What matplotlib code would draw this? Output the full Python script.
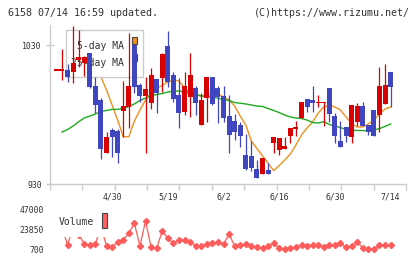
import matplotlib
matplotlib.use('Agg')
import matplotlib.pyplot as plt
from matplotlib.patches import Rectangle
import numpy as np

# ---------------- data ----------------
tick_idx = [10, 20, 30, 40, 50, 60]
tick_labels = ['4/30', '5/19', '6/2', '6/16', '6/30', '7/14']

opens = [1012.0, 1012.0, 1012.0, 1010.4, 1019.2, 1016.8, 1024.5, 1000.5, 990.4, 952.1,
         968.9, 968.4, 982.7, 985.2, 1030.0, 1001.2, 993.5, 988.1, 1005.3, 1006.0,
         1029.3, 1008.4, 994.0, 982.0, 992.8, 998.9, 972.4, 991.7, 1007.2, 998.9,
         993.3, 978.9, 975.3, 972.2, 950.9, 950.1, 940.6, 937.2, 940.1, 959.7,
         954.5, 955.0, 964.7, 969.8, 977.7, 991.2, 990.4, 988.5, 988.5, 999.1,
         978.9, 960.9, 971.2, 963.6, 974.8, 986.1, 972.4, 983.2, 979.6, 987.6,
         1010.8]
highs = [1012.0, 1027.1, 1016.3, 1044.0, 1040.8, 1022.1, 1024.5, 1007.2, 991.9, 967.6,
         970.0, 969.6, 1004.1, 1038.6, 1030.0, 1002.7, 1007.2, 1013.7, 1005.3, 1024.5,
         1040.1, 1010.6, 1006.3, 1010.6, 1024.2, 1000.7, 995.7, 1006.8, 1007.2, 1000.5,
         1000.5, 994.0, 980.4, 974.8, 965.8, 960.9, 947.3, 948.5, 944.9, 963.8,
         962.9, 964.0, 970.1, 975.3, 989.0, 991.2, 1000.5, 994.0, 989.0, 999.1,
         981.1, 975.3, 971.2, 986.8, 988.1, 989.2, 972.4, 983.2, 1014.4, 1016.3,
         1010.8]
lows = [1012.0, 1004.8, 1003.4, 1002.9, 1014.2, 1007.7, 999.1, 981.1, 948.0, 952.1,
        949.6, 945.3, 964.0, 970.1, 995.5, 989.2, 952.1, 984.0, 981.1, 996.4,
        999.8, 989.2, 970.1, 979.6, 978.4, 979.6, 972.4, 974.8, 986.8, 973.7,
        974.8, 952.1, 961.7, 956.8, 940.1, 939.6, 934.5, 937.2, 937.0, 952.1,
        950.9, 955.0, 959.3, 964.7, 977.7, 982.0, 982.0, 985.2, 971.7, 974.8,
        959.7, 956.8, 960.4, 959.7, 971.7, 971.7, 965.3, 964.7, 967.6, 987.6,
        985.2]
closes = [1012.0, 1012.0, 1006.8, 1017.3, 1021.4, 1021.6, 1000.0, 986.8, 955.2, 964.0,
          964.0, 952.5, 986.1, 1000.5, 1000.0, 993.3, 998.3, 1008.4, 995.3, 1023.5,
          1003.2, 990.9, 980.9, 1000.5, 1008.4, 988.1, 990.4, 1006.8, 987.6, 992.8,
          977.7, 965.3, 967.6, 964.5, 940.6, 941.7, 934.5, 948.5, 937.0, 963.8,
          962.9, 957.3, 970.1, 971.0, 989.0, 985.6, 988.5, 989.0, 989.0, 980.4,
          964.7, 956.8, 964.7, 986.8, 986.1, 971.7, 967.6, 964.7, 1000.5, 1001.2,
          1000.0]

ma5 = [None, None, None, None,
       1021.4, 1020.6, 1019.2, 1015.6, 1007.0, 997.6, 986.8, 976.0, 964.0, 964.0,
       975.3, 983.2, 990.4, 995.5, 999.1, 1000.9, 1003.4, 1004.8, 1004.1, 999.1,
       995.8, 994.7, 993.3, 994.0, 994.7, 994.7, 992.6, 990.4, 986.1, 978.9,
       972.4, 960.9, 955.5, 950.1, 945.1, 939.6, 943.3, 947.3, 951.6, 958.1,
       965.3, 970.3, 974.6, 981.1, 985.4, 986.8, 985.4, 983.2, 978.2, 973.5,
       971.0, 971.0, 973.2, 976.0, 980.4, 984.0, 985.4]
ma25 = [None,
        967.4, 969.2, 971.7, 974.8, 977.5, 978.9, 980.4, 982.2, 982.9, 983.7,
        983.7, 984.3, 985.8, 987.6, 990.1, 991.9, 993.7, 994.4, 995.1, 996.2,
        996.9, 996.9, 996.4, 995.5, 994.4, 993.3, 992.9, 992.6, 991.7, 990.8,
        990.1, 988.6, 988.1, 987.6, 986.8, 986.1, 985.8, 984.3, 982.9, 981.4,
        979.6, 978.2, 977.5, 977.1, 976.0, 974.2, 973.9, 974.8, 972.8, 971.7,
        970.6, 969.2, 968.8, 968.5, 968.5, 968.1, 968.8, 969.9, 971.4, 973.2]

volume = [47000, 26900, 5700, 26900, 17900, 6860, 5700, 6860, 27000, 4540,
          3030, 9540, 11520, 19310, 30940, 4540, 33610, 3030, 1860, 21980,
          13490, 7680, 11520, 11520, 9540, 4540, 4540, 6860, 7680, 8840,
          6860, 18150, 4540, 5700, 6860, 4540, 3030, 2560, 4540, 7680,
          1860, 700, 1860, 3720, 5700, 4540, 5700, 5700, 3720, 5700,
          5700, 7680, 3030, 4540, 9540, 1860, 700, 700, 5700, 5700,
          5700]

price_ticks = [930, 1030]
vol_ticks = [700, 23850, 47000]

# ---------------- style ----------------
W, H = 420, 259
MONO = 'DejaVu Sans Mono'
RED = '#d80000'
BLUE = '#4046c0'
ORANGE = '#f0901e'
GREEN = '#1faa1f'
GRAY = '#cccccc'
TXT = '#333333'
VOLC = '#ff5c5c'

fig = plt.figure(figsize=(W / 100, H / 100), dpi=100)
fig.patch.set_facecolor('white')


def px_axes(x0, y0, x1, y1):
    return fig.add_axes([x0 / W, 1 - y1 / H, (x1 - x0) / W, (y1 - y0) / H])


def fig_xy(px, py):
    return px / W, 1 - py / H


n = len(closes)
idx = np.arange(n)
XL = (-1.15, 62.76)

# ---------------- main price axes ----------------
ax = px_axes(50, 25, 406, 184)
ax.set_xlim(*XL)
ax.set_ylim(930, 1044.4)
ax.patch.set_alpha(0)
for s in ['top', 'right']:
    ax.spines[s].set_visible(False)
for s in ['left', 'bottom']:
    ax.spines[s].set_color(GRAY)
    ax.spines[s].set_linewidth(1.0)

ax.set_xticks(np.linspace(XL[0], XL[1], 12))
ax.tick_params(axis='x', direction='out', length=4.5, width=1.0, color=GRAY,
               labelbottom=False)
ax.set_yticks(price_ticks)
ax.set_yticklabels([str(v) for v in price_ticks], fontfamily=MONO, fontsize=5.9,
                   color=TXT)
ax.tick_params(axis='y', direction='inout', length=6, width=1.0, color=GRAY, pad=3)

# moving averages (under legend box)
ma5_x = [i for i, v in enumerate(ma5) if v is not None]
ma5_y = [v for v in ma5 if v is not None]
ma25_x = [i for i, v in enumerate(ma25) if v is not None]
ma25_y = [v for v in ma25 if v is not None]
ax.plot(ma5_x, ma5_y, color=ORANGE, lw=1.0, zorder=2)
ax.plot(ma25_x, ma25_y, color=GREEN, lw=1.0, zorder=2)

# legend box (drawn above MA lines, below candles)
lx0, ly0 = fig_xy(65.7, 77)
lx1, ly1 = fig_xy(143, 30)
ax.add_patch(Rectangle((lx0, ly0), lx1 - lx0, ly1 - ly0, transform=fig.transFigure,
                       facecolor='white', edgecolor=GRAY, lw=1.0, zorder=3,
                       clip_on=False))
for label, ty, col, my in [('5-day MA', 46, ORANGE, 40.7), ('25-day MA', 63, GREEN, 57.7)]:
    tx, tyy = fig_xy(124, ty)
    ax.text(tx, tyy, label, transform=fig.transFigure, ha='right', va='center',
            fontfamily=MONO, fontsize=7.0, color=TXT, zorder=3.1)
    mx0, my0 = fig_xy(131.7, my + 3.5)
    mx1, my1 = fig_xy(137.3, my - 3.5)
    ax.add_patch(Rectangle((mx0, my0), mx1 - mx0, my1 - my0, transform=fig.transFigure,
                           facecolor=col, edgecolor='#444444', lw=0.8, zorder=3.2,
                           clip_on=False))

# candles
for i in range(n):
    o, h, l, c = opens[i], highs[i], lows[i], closes[i]
    col = RED if c >= o else BLUE
    ax.vlines(i, l, h, color=col, lw=0.9, zorder=4)
    lo, hi = min(o, c), max(o, c)
    if hi - lo < 0.8:
        mid = (hi + lo) / 2
        lo, hi = mid - 0.4, mid + 0.4
    ax.bar(i, hi - lo, bottom=lo, width=0.9, color=col, linewidth=0, zorder=5)

# ---------------- volume axes ----------------
av = px_axes(50, 209.5, 406, 249.3)
av.set_xlim(*XL)
av.set_ylim(700, 47000)
av.patch.set_alpha(0)
for s in av.spines.values():
    s.set_visible(False)
av.set_yticks(vol_ticks)
av.set_yticklabels([str(v) for v in vol_ticks], fontfamily=MONO, fontsize=5.9,
                   color=TXT)
av.tick_params(axis='y', length=0, pad=4.3)
av.xaxis.tick_top()
av.set_xticks(tick_idx)
av.set_xticklabels(tick_labels, fontfamily=MONO, fontsize=5.9, color=TXT)
av.tick_params(axis='x', length=0, pad=5.5)

av.plot(idx, volume, color=VOLC, lw=0.9, marker='D', ms=3.1, mec=VOLC, mfc=VOLC,
        clip_on=False, zorder=2)

# volume legend (white box hides the line beneath)
bx0, by0 = fig_xy(52, 236.7)
bx1, by1 = fig_xy(110, 203)
av.add_patch(Rectangle((bx0, by0), bx1 - bx0, by1 - by0, transform=fig.transFigure,
                       facecolor='white', edgecolor='none', zorder=3, clip_on=False))
vx, vy = fig_xy(59, 222)
av.text(vx, vy, 'Volume', transform=fig.transFigure, ha='left', va='center',
        fontfamily=MONO, fontsize=7.0, color=TXT, zorder=4)
rx0, ry0 = fig_xy(101.7, 228)
rx1, ry1 = fig_xy(107.3, 213)
av.add_patch(Rectangle((rx0, ry0), rx1 - rx0, ry1 - ry0, transform=fig.transFigure,
                       facecolor='#ff6060', edgecolor='#444444', lw=0.8, zorder=4,
                       clip_on=False))

# ---------------- header ----------------
hx, hy = fig_xy(8, 16.3)
fig.text(hx, hy, '6158 07/14 16:59 updated.', ha='left', va='baseline',
         fontfamily=MONO, fontsize=7.2, color=TXT)
hx2, _ = fig_xy(410, 16.3)
fig.text(hx2, hy, '(C)https://www.rizumu.net/', ha='right', va='baseline',
         fontfamily=MONO, fontsize=7.2, color=TXT)

fig.savefig('out.png', dpi=100, facecolor='white')
